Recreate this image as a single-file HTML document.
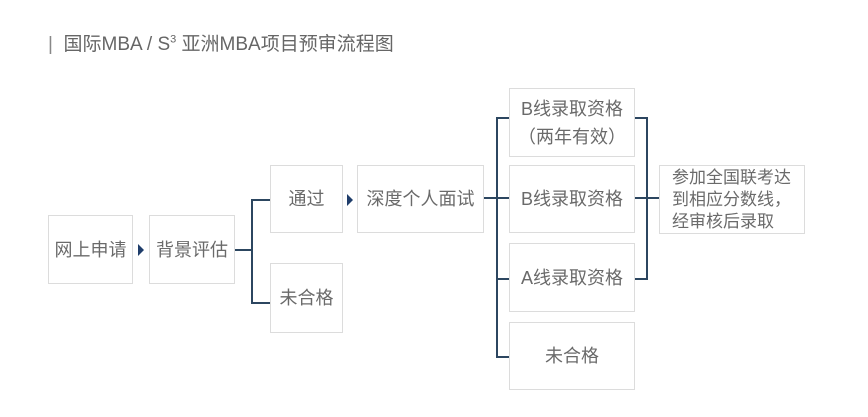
<!DOCTYPE html>
<html><head><meta charset="utf-8"><style>
body{margin:0;width:868px;height:417px;background:#fff;position:relative;overflow:hidden;font-family:"Liberation Sans","Noto Sans CJK SC",sans-serif;}
.b{position:absolute;box-sizing:border-box;border:1.5px solid #dcdcdc;display:flex;align-items:center;justify-content:center;text-align:center;color:#6a6a6a;font-size:18px;line-height:24px;}
.t{position:absolute;left:48px;top:29px;font-size:19px;color:#666;white-space:nowrap;}
svg{position:absolute;left:0;top:0;}
</style></head><body>
<div class="t"><span style="color:#888">|</span>&nbsp; 国际MBA / S<sup style="font-size:11px">3</sup> 亚洲MBA项目预审流程图</div>
<svg width="868" height="417">
<g stroke="#2c4660" stroke-width="2" fill="none">
<line x1="235" y1="250" x2="252" y2="250"/>
<polyline points="270,200 252,200 252,303 270,303"/>
<line x1="484" y1="198" x2="497" y2="198"/>
<polyline points="509,118 497,118 497,357 509,357"/>
<line x1="497" y1="198" x2="509" y2="198"/>
<line x1="497" y1="279" x2="509" y2="279"/>
<polyline points="635,118 647,118 647,279 635,279"/>
<line x1="635" y1="198" x2="659" y2="198"/>
</g>
<g fill="#1f3d6b">
<polygon points="138,244 144,250 138,256"/>
<polygon points="347,194 353,200 347,206"/>
</g>
</svg>
<div class="b" style="left:48px;top:215px;width:85px;height:69px">网上申请</div>
<div class="b" style="left:149px;top:215px;width:86px;height:69px">背景评估</div>
<div class="b" style="left:270px;top:165px;width:73px;height:68px">通过</div>
<div class="b" style="left:270px;top:263px;width:73px;height:70px">未合格</div>
<div class="b" style="left:357px;top:165px;width:127px;height:68px">深度个人面试</div>
<div class="b" style="left:509px;top:88px;width:126px;height:69px;line-height:28px">B线录取资格<br>（两年有效）</div>
<div class="b" style="left:509px;top:165px;width:126px;height:68px">B线录取资格</div>
<div class="b" style="left:509px;top:243px;width:126px;height:69px">A线录取资格</div>
<div class="b" style="left:509px;top:322px;width:126px;height:68px">未合格</div>
<div class="b" style="left:659px;top:165px;width:146px;height:69px;line-height:22px;font-size:17px;justify-content:flex-start;text-align:left;padding-left:12px;white-space:nowrap">参加全国联考达<br>到相应分数线，<br>经审核后录取</div>
</body></html>
